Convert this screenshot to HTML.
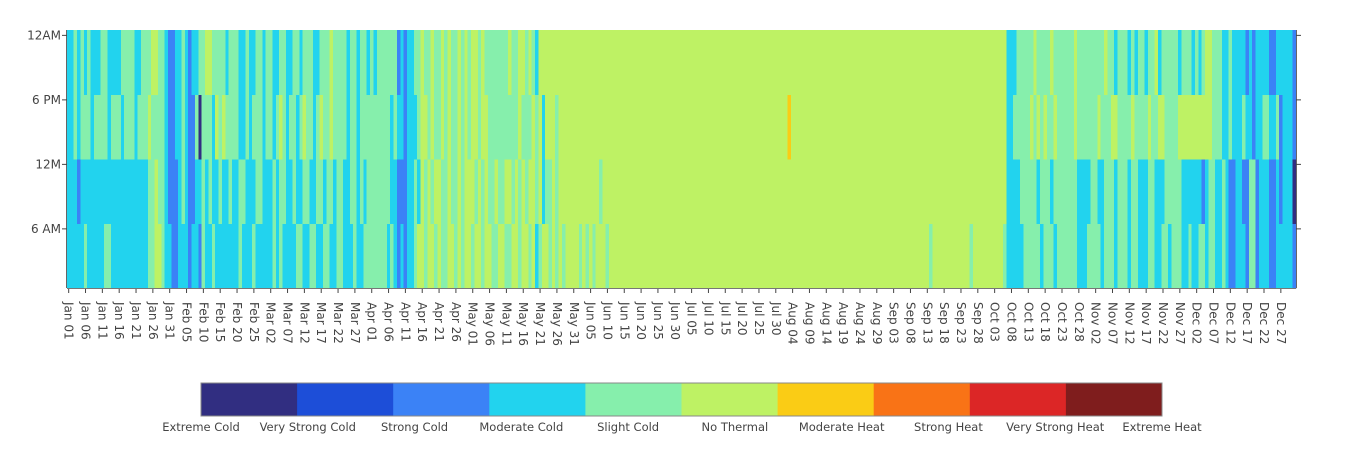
<!DOCTYPE html>
<html><head><meta charset="utf-8">
<style>
body{margin:0;background:#fff;width:1366px;height:463px;overflow:hidden;font-family:"DejaVu Sans","Liberation Sans",sans-serif;}
svg text{font-family:"DejaVu Sans","Liberation Sans",sans-serif;fill:#444;font-size:11.5px;}
svg text.tick{font-size:12px;}
</style></head>
<body>
<svg id="chart" width="1366" height="463" xmlns="http://www.w3.org/2000/svg">
<g id="cells" shape-rendering="crispEdges"></g>
<g id="axes"></g>
<g id="cbar"></g>
</svg>
<script>
const categories = ["Extreme Cold","Very Strong Cold","Strong Cold","Moderate Cold","Slight Cold","No Thermal","Moderate Heat","Strong Heat","Very Strong Heat","Extreme Heat"];
const colors = ["#312e81","#1d4ed8","#3b82f6","#22d3ee","#86efac","#bef264","#facc15","#f97316","#dc2626","#7f1d1d"];
const monthNames = ["Jan","Feb","Mar","Apr","May","Jun","Jul","Aug","Sep","Oct","Nov","Dec"];
const monthDays = [31,28,31,30,31,30,31,31,30,31,30,31];
const yTickHours = [6,12,18,24];
const yTickLabels = ["6 AM","12M","6 PM","12AM"];
// category per day, by month, for hour blocks 1-6, 7-12, 13-18, 19-24
const nightBlock = ["3333343333344333333333334455433","2233323324334333333343334333","3343433334433443344334433343344","444443432323345545545445545455","4554554455445545545345545454555","545454555455555555555555555555","5555555555555555555555555555555","5555555555555555555555555555555","555555555555545555555555545555","5555543333344444344434444443334","444344434443443334433443444334","3344344334322333244233322333332"];
const morningBlock = ["3332333333333333333333334454432","2234322334343343343344333443","3343443343344334434434433443434","444444332223343545455445445455","5454544544554545455453445455555","555555545555555555555555555555","5555555555555555555555555555555","5555555555555555555555555555555","555555555555555555555555555555","5555553333444443444344444443333","443344434443443334433344444333","3332344334322332244233322323330"];
const afternoonBlock = ["3343444344443444344434445444432","2334322404443545444433434443","4434543443454434544544443443444","444444343323334554544545445454","5545544444444454445453555455555","555555555555555555555555555555","5555555555555555555555555555555","5565555555555555555555555555555","555555555555555555555555555555","5555553344444545454454444454444","445444554444544445445544445555","5555554443343334332334433423332"];
const eveningBlock = ["3343434333443333444433444554432","2334323344554444344433433443","4433443344344433444544443443443","434444442323344544544545445454","5545444444454455454355555555555","555555555555555555555555555555","5555555555555555555555555555555","5555555555555555555555555555555","555555555555555555555555555555","5555553334444454444544444454444","444454434443434434453444443444","3434554443343333232333322333332"];

const NS="http://www.w3.org/2000/svg";
const X0=67, X1=1296, Y0=30, Y1=288, NDAYS=365;
const dayW=(X1-X0)/NDAYS, rowH=(Y1-Y0)/24;
function xScale(d){return X0+d*dayW;}
function yScale(h){return Y0+(24-h)*rowH;}
function flat(blocks){let s="";blocks.forEach((m,i)=>{let t=m;while(t.length<monthDays[i])t+=t[t.length-1];s+=t.slice(0,monthDays[i]);});return s;}
const blocks=[flat(nightBlock),flat(morningBlock),flat(afternoonBlock),flat(eveningBlock)];
function mk(tag,attrs,parent){const e=document.createElementNS(NS,tag);for(const k in attrs)e.setAttribute(k,attrs[k]);parent.appendChild(e);return e;}

const cells=document.getElementById('cells');
for(let d=0;d<NDAYS;d++){
  for(let h=1;h<=24;h++){
    const v=+blocks[Math.floor((h-1)/6)][d];
    const r=mk('rect',{x:xScale(d).toFixed(2),y:yScale(h).toFixed(2),width:(dayW+0.6).toFixed(2),height:(rowH+0.6).toFixed(2),fill:colors[v]},cells);
    
    
  }
}
const axes=document.getElementById('axes');
const xl=mk('line',{x1:X0,y1:Y1+0.5,x2:X1,y2:Y1+0.5,stroke:'#777','stroke-width':1},axes);


const yl=mk('line',{x1:X0-0.5,y1:Y0,x2:X0-0.5,y2:Y1,stroke:'#666','stroke-width':1},axes);


const yr=mk('line',{x1:X1+0.5,y1:Y0,x2:X1+0.5,y2:Y1,stroke:'#666','stroke-width':1},axes);


yTickHours.forEach((h,i)=>{
  const y=yScale(h)+rowH/2;
  mk('line',{x1:X0-5,y1:y,x2:X0,y2:y,stroke:'#444'},axes);
  mk('line',{x1:X1,y1:y,x2:X1+5,y2:y,stroke:'#444'},axes);
  const t=mk('text',{x:X0-6,y:y+4,'text-anchor':'end',class:'tick'},axes);
  t.textContent=yTickLabels[i];
  
  
});
const dates=[];
monthDays.forEach((n,m)=>{for(let i=1;i<=n;i++)dates.push(monthNames[m]+" "+String(i).padStart(2,'0'));});
for(let d=0;d<NDAYS;d+=5){
  const x=xScale(d)+dayW/2;
  mk('line',{x1:x,y1:Y1+1,x2:x,y2:Y1+5,stroke:'#444'},axes);
  const t=mk('text',{x:0,y:0,class:'tick',transform:`translate(${(x-4).toFixed(1)},302) rotate(90)`},axes);
  t.textContent=dates[d];
  
  
}
const cb=document.getElementById('cbar');
const CB0=201,CB1=1162,segW=(CB1-CB0)/10;
colors.forEach((c,i)=>{
  const r=mk('rect',{x:CB0+i*segW,y:383,width:segW+0.5,height:33,fill:c},cb);
  
  
});
mk('rect',{x:CB0,y:383,width:CB1-CB0,height:33,fill:'none',stroke:'#888','stroke-width':1},cb);
categories.forEach((c,i)=>{
  const t=mk('text',{x:CB0+i*(CB1-CB0)/9,y:431,'text-anchor':'middle'},cb);
  t.textContent=c;
  
  
});
</script>
</body></html>
